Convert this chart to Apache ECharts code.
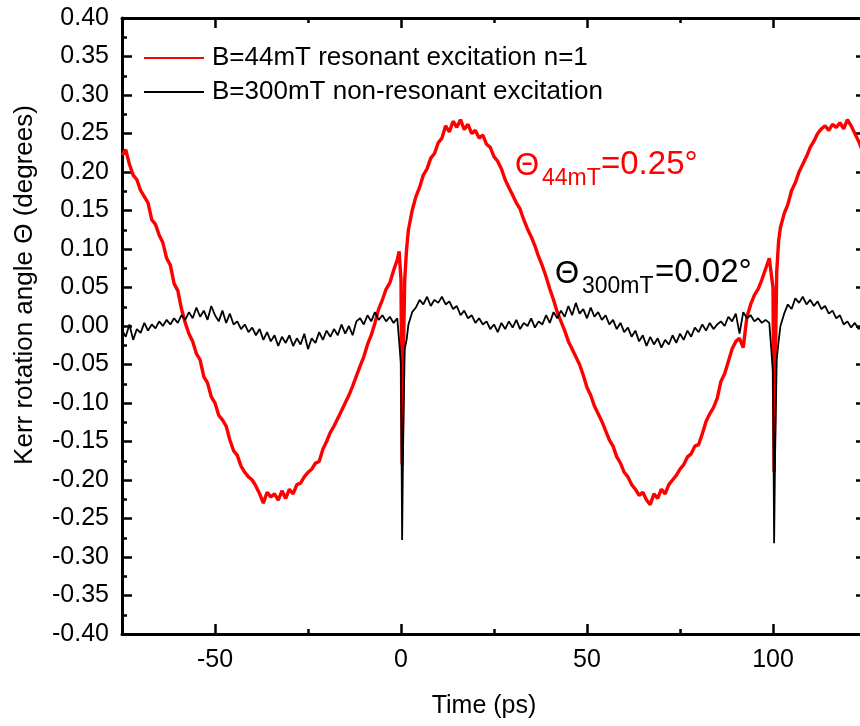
<!DOCTYPE html>
<html>
<head>
<meta charset="utf-8">
<script src="https://cdn.jsdelivr.net/npm/echarts@6/dist/echarts.min.js"></script>
<style>
html,body{margin:0;padding:0;overflow:hidden;background:#fff;}
#chart{width:880px;height:726px;}
</style>
</head>
<body>
<div id="chart"></div>
<script>
// time (ps)
var time = [
-75,-74,-73,-72,-71,-70,-69,-68,-67,-66,
-65,-64,-63,-62,-61,-60,-59,-58,-57,-56,
-55,-54,-53,-52,-51,-50,-49,-48,-47,-46,
-45,-44,-43,-42,-41,-40,-39,-38,-37,-36,
-35,-34,-33,-32,-31,-30,-29,-28,-27,-26,
-25,-24,-23,-22,-21,-20,-19,-18,-17,-16,
-15,-14,-13,-12,-11,-10,-9,-8,-7,-6,
-5,-4,-3,-2,-1,
-0.5,0,0.3,0.6,1,1.5,
2,3,4,5,6,7,8,9,10,11,
12,13,14,15,16,17,18,19,20,21,
22,23,24,25,26,27,28,29,30,31,
32,33,34,35,36,37,38,39,40,41,
42,43,44,45,46,47,48,49,50,51,
52,53,54,55,56,57,58,59,60,61,
62,63,64,65,66,67,68,69,70,71,
72,73,74,75,76,77,78,79,80,81,
82,83,84,85,86,87,88,89,90,91,
92,93,94,95,96,97,98,99,
99.5,100,100.3,100.6,101,101.5,
102,103,104,105,106,107,108,109,110,111,
112,113,114,115,116,117,118,119,120,121,
122,123,124,125
];
// B=44mT resonant excitation n=1
var red44 = [
0.222,0.229,0.210,0.196,0.190,0.176,0.168,0.160,0.138,0.132,
0.118,0.108,0.088,0.079,0.055,0.046,0.022,0.004,-0.010,-0.020,
-0.036,-0.044,-0.066,-0.074,-0.092,-0.100,-0.116,-0.122,-0.130,-0.148,
-0.162,-0.168,-0.182,-0.190,-0.196,-0.200,-0.208,-0.218,-0.230,-0.216,
-0.222,-0.218,-0.226,-0.214,-0.224,-0.212,-0.218,-0.206,-0.204,-0.196,
-0.190,-0.186,-0.178,-0.176,-0.160,-0.150,-0.138,-0.130,-0.120,-0.110,
-0.100,-0.090,-0.078,-0.065,-0.052,-0.040,-0.024,-0.012,0.004,0.022,
0.034,0.048,0.056,0.072,0.086,
0.097,0.060,-0.180,-0.050,0.060,0.100,
0.125,0.150,0.168,0.180,0.196,0.204,0.218,0.224,0.238,0.244,
0.260,0.252,0.266,0.258,0.268,0.255,0.262,0.250,0.254,0.244,
0.248,0.236,0.232,0.220,0.214,0.204,0.190,0.180,0.170,0.160,
0.152,0.138,0.126,0.116,0.104,0.090,0.078,0.064,0.048,0.034,
0.018,0.006,-0.006,-0.020,-0.030,-0.040,-0.050,-0.064,-0.080,-0.090,
-0.104,-0.114,-0.124,-0.136,-0.148,-0.156,-0.170,-0.178,-0.190,-0.196,
-0.206,-0.212,-0.220,-0.216,-0.226,-0.232,-0.218,-0.224,-0.212,-0.218,
-0.206,-0.200,-0.194,-0.186,-0.180,-0.170,-0.166,-0.156,-0.154,-0.140,
-0.124,-0.114,-0.106,-0.094,-0.072,-0.062,-0.046,-0.030,-0.020,-0.016,
-0.028,0.012,0.028,0.040,0.048,0.060,0.074,0.088,
0.090,0.050,-0.190,-0.060,0.070,0.110,
0.128,0.146,0.158,0.176,0.186,0.200,0.210,0.220,0.232,0.240,
0.250,0.256,0.260,0.254,0.262,0.258,0.264,0.256,0.268,0.260,
0.250,0.240,0.228,0.220
];
// B=300mT non-resonant excitation
var black300 = [
-0.005,-0.014,0.002,-0.018,-0.004,-0.009,0.004,-0.006,0.002,-0.003,
0.006,0.000,0.008,0.002,0.010,0.004,0.014,0.008,0.018,0.010,
0.024,0.012,0.020,0.008,0.026,0.014,0.006,0.020,0.004,0.016,
0.002,0.006,-0.004,0.002,-0.008,-0.002,-0.012,-0.004,-0.018,-0.008,
-0.020,-0.012,-0.026,-0.014,-0.022,-0.012,-0.026,-0.016,-0.024,-0.010,
-0.030,-0.016,-0.022,-0.008,-0.018,-0.006,-0.014,-0.004,-0.012,0.002,
-0.010,0.000,-0.012,0.006,0.010,0.002,0.014,0.006,0.018,0.008,
0.014,0.006,0.012,0.004,0.010,
0.012,-0.050,-0.278,-0.140,-0.030,-0.018,
0.002,0.018,0.024,0.034,0.028,0.038,0.026,0.034,0.030,0.038,
0.028,0.032,0.022,0.026,0.014,0.020,0.010,0.014,0.004,0.010,
0.002,0.006,-0.004,0.002,-0.008,0.004,-0.004,0.006,-0.002,0.008,
-0.004,0.004,0.000,0.010,-0.002,0.006,0.002,0.014,0.004,0.018,
0.010,0.020,0.012,0.026,0.014,0.030,0.016,0.022,0.010,0.024,
0.012,0.018,0.008,0.014,0.002,0.008,-0.004,0.004,-0.008,-0.002,
-0.014,-0.006,-0.020,-0.012,-0.026,-0.014,-0.024,-0.016,-0.028,-0.018,
-0.024,-0.012,-0.022,-0.010,-0.018,-0.006,-0.014,-0.002,-0.008,0.002,
-0.006,0.004,-0.004,0.002,0.006,0.000,0.012,0.006,0.016,-0.010,
0.018,0.010,0.014,0.006,0.010,0.004,0.008,0.004,
0.006,-0.060,-0.282,-0.150,-0.044,-0.020,
0.000,0.016,0.028,0.022,0.036,0.030,0.038,0.028,0.034,0.026,
0.032,0.022,0.026,0.016,0.020,0.010,0.014,0.002,0.006,-0.002,
0.004,-0.004,0.002,-0.003
];
var xMajorTicks = [-50, 0, 50, 100];
var xMinorTicks = [-25, 25, 75];
var seriesNames = ['B=44mT resonant excitation n=1', 'B=300mT non-resonant excitation'];

function pairs(xs, ys){ return xs.map(function(x,i){ return [x, ys[i]]; }); }

var FONT = 'Liberation Sans, Arial, sans-serif';
var chart = echarts.init(document.getElementById('chart'), null, {renderer:'canvas'});

function xAxisDef(pos, ticks, len, showLine, showLabel){
  return {
    type:'value', position:pos, min:-75, max:125, interval:25,
    axisLine:{show:showLine, onZero:false, lineStyle:{color:'#000', width:3}},
    axisTick:{show:true, inside:true, length:len, customValues:ticks, lineStyle:{color:'#000', width:2.5}},
    axisLabel:{show:showLabel, customValues:xMajorTicks, margin:14, color:'#000', fontSize:25, fontFamily:FONT},
    splitLine:{show:false}
  };
}
function yAxisDef(pos, showLabel){
  return {
    type:'value', position:pos, min:-0.4, max:0.4, interval:0.05,
    axisLine:{show:true, onZero:false, lineStyle:{color:'#000', width:3}},
    axisTick:{show:true, inside:true, length:10, lineStyle:{color:'#000', width:2.5}},
    minorTick:{show:true, splitNumber:2, length:5, lineStyle:{color:'#000', width:2.5}},
    axisLabel:{show:showLabel, margin:13, color:'#000', fontSize:25, fontFamily:FONT,
      formatter:function(v){ return v.toFixed(2); }},
    splitLine:{show:false}
  };
}

chart.setOption({
  animation:false,
  backgroundColor:'#fff',
  grid:{left:122, top:18, right:14, bottom:92, containLabel:false, outerBoundsMode:'none'},
  legend:{
    orient:'vertical', left:143, top:45, padding:0, itemWidth:60, itemHeight:14, itemGap:8,
    data:seriesNames,
    itemStyle:{color:'transparent', borderColor:'transparent', borderWidth:0, opacity:0},
    textStyle:{color:'#000', fontSize:26, fontFamily:FONT, padding:[0,0,0,3]}
  },
  xAxis:[
    xAxisDef('bottom', xMajorTicks, 10, true, true),
    xAxisDef('bottom', xMinorTicks, 5, false, false),
    xAxisDef('top', xMajorTicks, 10, true, false),
    xAxisDef('top', xMinorTicks, 5, false, false)
  ],
  yAxis:[ yAxisDef('left', true), yAxisDef('right', false) ],
  series:[
    {name:seriesNames[0], type:'line', xAxisIndex:0, yAxisIndex:0, symbol:'none', showSymbol:false,
     lineStyle:{color:'#ff0000', width:3.4}, itemStyle:{color:'#ff0000'}, data:pairs(time, red44), z:2},
    {name:seriesNames[1], type:'line', xAxisIndex:0, yAxisIndex:0, symbol:'none', showSymbol:false,
     lineStyle:{color:'#000', width:1.8}, itemStyle:{color:'#000'}, data:pairs(time, black300), z:3}
  ],
  graphic:[
    {type:'text', x:484, y:706, style:{text:'Time (ps)', fill:'#000', font:'25px '+FONT, align:'center', verticalAlign:'middle'}},
    {type:'text', x:25, y:285, rotation:Math.PI/2, style:{text:'Kerr rotation angle Θ (degrees)', fill:'#000', font:'26px '+FONT, align:'center', verticalAlign:'middle'}},
    {type:'text', x:515, y:166, style:{text:'Θ', fill:'#ff0000', font:'31px '+FONT, align:'left', verticalAlign:'middle'}},
    {type:'text', x:542, y:179, style:{text:'44mT', fill:'#ff0000', font:'23px '+FONT, align:'left', verticalAlign:'middle'}},
    {type:'text', x:601, y:165, style:{text:'=0.25°', fill:'#ff0000', font:'33px '+FONT, align:'left', verticalAlign:'middle'}},
    {type:'text', x:555, y:274, style:{text:'Θ', fill:'#000', font:'31px '+FONT, align:'left', verticalAlign:'middle'}},
    {type:'text', x:582, y:287, style:{text:'300mT', fill:'#000', font:'23px '+FONT, align:'left', verticalAlign:'middle'}},
    {type:'text', x:655, y:273, style:{text:'=0.02°', fill:'#000', font:'33px '+FONT, align:'left', verticalAlign:'middle'}}
  ]
});
</script>
</body>
</html>
